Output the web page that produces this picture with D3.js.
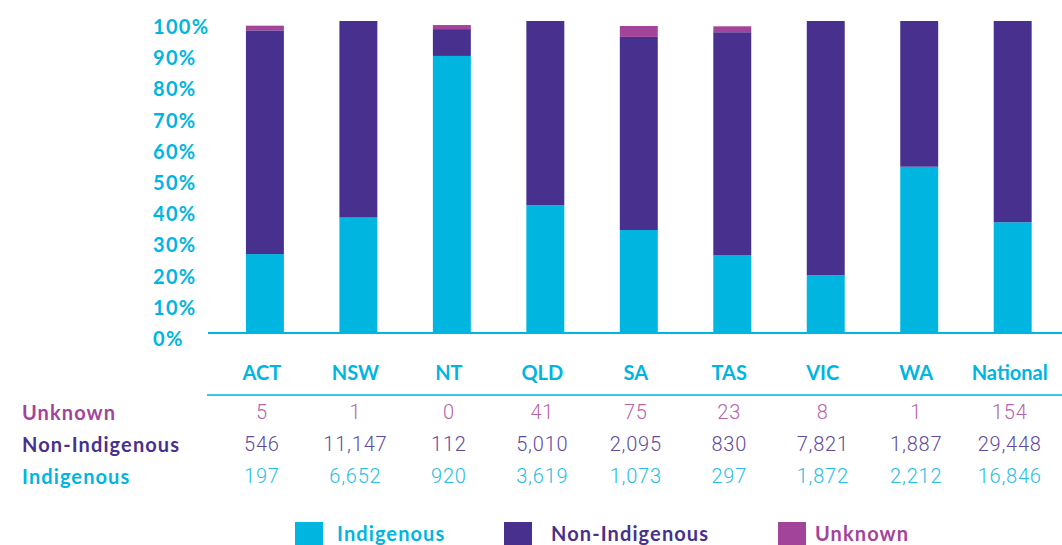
<!DOCTYPE html>
<html>
<head>
<meta charset="utf-8">
<script src="https://cdn.jsdelivr.net/npm/d3@7"></script>
<style>
  body { margin: 0; background: #fff; }
  svg { display: block; }
  .lbl { font-family: Lato, "Open Sans", sans-serif; font-weight: 700; }
  .num { font-family: Roboto, sans-serif; font-weight: 300; }
</style>
</head>
<body>
<svg id="chart" width="1062" height="545"></svg>
<script>
// categories and values (bar heights in %)
const states = ['ACT', 'NSW', 'NT', 'QLD', 'SA', 'TAS', 'VIC', 'WA', 'National'];
const indigenousPct = [25.3, 37.0, 88.8, 41.0, 33.0, 25.0, 18.5, 53.3, 35.5];
const nonIndigenousPct = [71.7, 63.0, 8.6, 59.0, 61.9, 71.4, 81.5, 46.7, 64.5];
const unknownPct = [1.5, 0, 1.3, 0, 3.5, 1.9, 0, 0, 0];

// table counts
const unknownCount = ['5', '1', '0', '41', '75', '23', '8', '1', '154'];
const nonIndigenousCount = ['546', '11,147', '112', '5,010', '2,095', '830', '7,821', '1,887', '29,448'];
const indigenousCount = ['197', '6,652', '920', '3,619', '1,073', '297', '1,872', '2,212', '16,846'];

const yTicks = [0, 10, 20, 30, 40, 50, 60, 70, 80, 90, 100];

const cyan = '#00b5df', purple = '#48308e', magenta = '#a3449b';

const svg = d3.select('#chart');

const x = d3.scaleBand()
    .domain(states)
    .range([199.2, 1078.4])
    .paddingInner(0.594)
    .paddingOuter(0.5);

const y = d3.scaleLinear().domain([0, 100]).range([333, 21]);

// stacked data
const rows = states.map((s, i) => ({
    state: s,
    indigenous: indigenousPct[i],
    nonIndigenous: nonIndigenousPct[i],
    unknown: unknownPct[i]
}));
const keys = ['indigenous', 'nonIndigenous', 'unknown'];
const colors = {indigenous: cyan, nonIndigenous: purple, unknown: magenta};
const stacked = d3.stack().keys(keys)(rows);

svg.append('g').selectAll('g')
    .data(stacked)
    .enter().append('g')
    .attr('fill', d => colors[d.key])
    .selectAll('rect')
    .data(d => d)
    .enter().append('rect')
    .attr('x', d => x(d.data.state))
    .attr('width', x.bandwidth())
    .attr('y', d => y(d[1]))
    .attr('height', d => y(d[0]) - y(d[1]));

// baseline
svg.append('line')
    .attr('x1', 208).attr('x2', 1062)
    .attr('y1', y(0)).attr('y2', y(0))
    .attr('stroke', cyan).attr('stroke-width', 2);

// y tick labels
svg.append('g').selectAll('text')
    .data(yTicks)
    .enter().append('text')
    .attr('class', 'lbl')
    .attr('x', 153)
    .attr('y', d => y(d) + 5)
    .attr('dominant-baseline', 'central')
    .attr('fill', cyan)
    .attr('font-size', 20)
    .attr('letter-spacing', 1.3)
    .text(d => d + '%');

// category labels
svg.append('g').selectAll('text')
    .data(states)
    .enter().append('text')
    .attr('class', 'lbl')
    .attr('x', d => x(d) + x.bandwidth() / 2 - 3)
    .attr('y', 372)
    .attr('dominant-baseline', 'central')
    .attr('text-anchor', 'middle')
    .attr('fill', cyan)
    .attr('font-size', 20)
    .text(d => d);

// table separator
svg.append('line')
    .attr('x1', 207).attr('x2', 1062)
    .attr('y1', 395).attr('y2', 395)
    .attr('stroke', cyan).attr('stroke-width', 1.5);

const tableRows = [
    {label: 'Unknown', color: magenta, numColor: '#b463ab', vals: unknownCount, y: 412},
    {label: 'Non-Indigenous', color: purple, numColor: '#5e4b9e', vals: nonIndigenousCount, y: 444},
    {label: 'Indigenous', color: cyan, numColor: '#27bde4', vals: indigenousCount, y: 476}
];

tableRows.forEach(r => {
    svg.append('text')
        .attr('class', 'lbl')
        .attr('x', 22).attr('y', r.y)
        .attr('dominant-baseline', 'central')
        .attr('fill', r.color)
        .attr('font-size', 20)
        .attr('letter-spacing', 1.1)
        .text(r.label);
    svg.append('g').selectAll('text')
        .data(r.vals)
        .enter().append('text')
        .attr('class', 'num')
        .attr('x', (d, i) => x(states[i]) + x.bandwidth() / 2 - 3)
        .attr('y', r.y)
        .attr('dominant-baseline', 'central')
        .attr('text-anchor', 'middle')
        .attr('fill', r.numColor)
        .attr('font-size', 20)
        .attr('letter-spacing', 0.8)
        .text(d => d);
});

// legend
const legend = [
    {label: 'Indigenous', color: cyan, x: 295, tx: 337},
    {label: 'Non-Indigenous', color: purple, x: 504, tx: 551},
    {label: 'Unknown', color: magenta, x: 778, tx: 815}
];
const lg = svg.append('g').selectAll('g').data(legend).enter().append('g');
lg.append('rect')
    .attr('x', d => d.x).attr('y', 522)
    .attr('width', 28).attr('height', 26)
    .attr('fill', d => d.color);
lg.append('text')
    .attr('class', 'lbl')
    .attr('x', d => d.tx).attr('y', 533)
    .attr('dominant-baseline', 'central')
    .attr('fill', d => d.color)
    .attr('font-size', 20)
    .attr('letter-spacing', 1.1)
    .text(d => d.label);
</script>
</body>
</html>
